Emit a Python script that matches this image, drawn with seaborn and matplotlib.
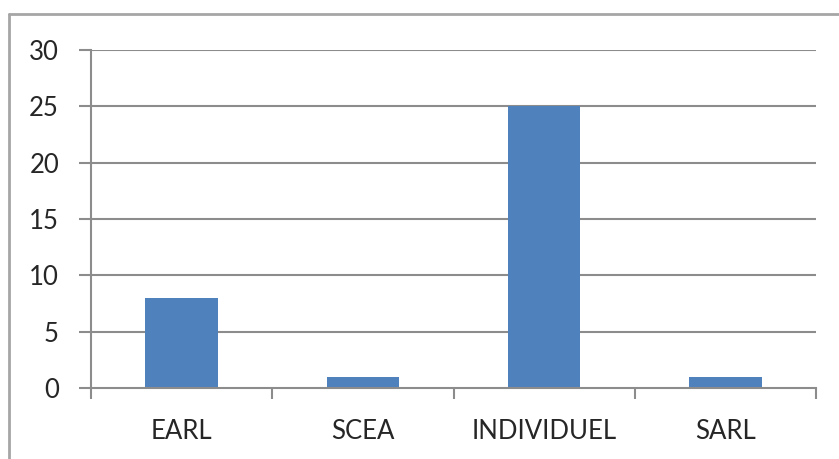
import matplotlib
matplotlib.use("Agg")
import matplotlib.pyplot as plt
import seaborn as sns
import pandas as pd
from matplotlib.lines import Line2D

categories = ["EARL", "SCEA", "INDIVIDUEL", "SARL"]
counts = [8, 1, 25, 1]
y_ticks = [0, 5, 10, 15, 20, 25, 30]

df = pd.DataFrame({"forme": categories, "nombre": counts})

sns.set_theme(style="white")
plt.rcParams["font.family"] = ["Lato", "DejaVu Sans"]

W, H = 839, 459
fig = plt.figure(figsize=(W / 100, H / 100), dpi=100)
ax = fig.add_axes([91 / W, 1 - 388 / H, (816 - 91) / W, (388 - 50) / H])

grid_c = "#8c8c8c"
text_c = "#262626"

sns.barplot(data=df, x="forme", y="nombre", color="#4F81BD", width=0.4,
            saturation=1, linewidth=0, ax=ax, zorder=3)

ax.set_xlim(-0.5, len(categories) - 0.5)
ax.set_ylim(0, 30)
ax.set_yticks(y_ticks)
ax.set_yticklabels([str(v) for v in y_ticks])
ax.set_xlabel("")
ax.set_ylabel("")

for v in y_ticks[1:]:
    ax.axhline(v, color=grid_c, lw=1.5, zorder=1)

for s in ["top", "right"]:
    ax.spines[s].set_visible(False)
for s in ["left", "bottom"]:
    ax.spines[s].set_color(grid_c)
    ax.spines[s].set_linewidth(1.5)
    ax.spines[s].set_zorder(4)

ax.tick_params(axis="y", length=9, width=1.5, color=grid_c, labelsize=18.5,
               labelcolor=text_c, pad=14, left=True)
ax.tick_params(axis="x", which="major", length=0, labelsize=18.5,
               labelcolor=text_c, pad=22)
ax.set_xticks([i + 0.5 for i in range(-1, len(categories))], minor=True)
ax.tick_params(axis="x", which="minor", length=8, width=1.5, color=grid_c,
               bottom=True)

# outer chart frame (top and left edges)
fig.add_artist(Line2D([9 / W, 1], [1 - 14 / H, 1 - 14 / H], color="#a6a6a6",
                      lw=2, transform=fig.transFigure))
fig.add_artist(Line2D([9 / W, 9 / W], [0, 1 - 14 / H], color="#a6a6a6",
                      lw=2, transform=fig.transFigure))

fig.savefig("out.png", dpi=100)
